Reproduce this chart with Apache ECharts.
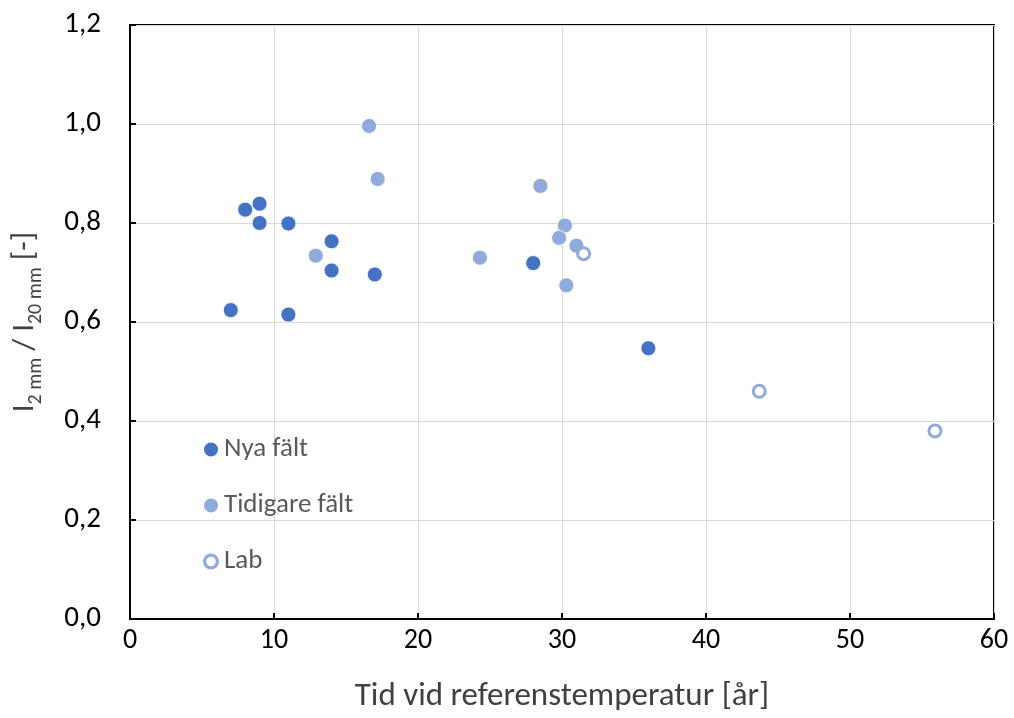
<!DOCTYPE html>
<html>
<head>
<meta charset="utf-8">
<script src="https://cdn.jsdelivr.net/npm/echarts@6/dist/echarts.min.js"></script>
<style>
html,body{margin:0;padding:0;background:#fff;}
#chart{width:1014px;height:718px;}
</style>
</head>
<body>
<div id="chart"></div>
<script>
const seriesNames = ['Nya fält', 'Tidigare fält', 'Lab'];
const nyaFalt = [
  [7.0, 0.624], [8.0, 0.827], [9.0, 0.839], [9.0, 0.800], [11.0, 0.799],
  [11.0, 0.615], [14.0, 0.763], [14.0, 0.704], [17.0, 0.696], [28.0, 0.719],
  [36.0, 0.547]
];
const tidigareFalt = [
  [16.6, 0.996], [17.2, 0.889], [12.9, 0.734], [24.3, 0.730], [28.5, 0.875],
  [30.2, 0.795], [29.8, 0.770], [31.0, 0.754], [30.3, 0.674]
];
const lab = [
  [31.5, 0.738], [43.7, 0.460], [55.9, 0.380]
];
const xMin = 0, xMax = 60, xStep = 10;
const yMin = 0, yMax = 1.2, yStep = 0.2;
const xTitle = 'Tid vid referenstemperatur [år]';

const axisFont = "Carlito, Lato, sans-serif";
const legendFont = "Carlito, Lato, sans-serif";
const ringIcon = 'path://M0,8 A8,8 0 1,1 16,8 A8,8 0 1,1 0,8 Z M3.2,8 A4.8,4.8 0 1,0 12.8,8 A4.8,4.8 0 1,0 3.2,8 Z';

const chart = echarts.init(document.getElementById('chart'), null, {renderer: 'canvas'});
chart.setOption({
  animation: false,
  backgroundColor: '#fff',
  grid: {left: 130, right: 20, top: 25, bottom: 97, show: true, borderColor: '#000', borderWidth: 2, backgroundColor: 'transparent'},
  xAxis: {
    type: 'value', min: xMin, max: xMax, interval: xStep,
    name: xTitle, nameLocation: 'middle', nameGap: 61,
    nameTextStyle: {fontFamily: axisFont, fontSize: 33, color: '#404040'},
    axisLine: {show: true, lineStyle: {color: '#000', width: 2}},
    axisTick: {show: true, inside: true, length: 6, lineStyle: {color: '#000', width: 2}},
    axisLabel: {fontFamily: axisFont, fontSize: 28, color: '#000', margin: 8},
    splitLine: {show: true, lineStyle: {color: '#D9D9D9', width: 1}}
  },
  yAxis: {
    type: 'value', min: yMin, max: yMax, interval: yStep,
    name: '{a|I}{s|2 mm}{a| / I}{s|20 mm}{a| [-]}',
    nameLocation: 'middle', nameGap: 89, nameRotate: 90,
    nameTextStyle: {
      color: '#404040',
      rich: {
        a: {fontFamily: axisFont, fontSize: 31, color: '#404040', lineHeight: 38, verticalAlign: 'bottom'},
        s: {fontFamily: axisFont, fontSize: 20, color: '#404040', lineHeight: 38, verticalAlign: 'bottom', padding: [0,0,-5,0]}
      }
    },
    axisLine: {show: true, lineStyle: {color: '#000', width: 2}},
    axisTick: {show: true, inside: true, length: 6, lineStyle: {color: '#000', width: 2}},
    axisLabel: {fontFamily: axisFont, fontSize: 29, color: '#000', margin: 29,
      formatter: v => v.toFixed(1).replace('.', ',')},
    splitLine: {show: true, lineStyle: {color: '#D9D9D9', width: 1}}
  },
  legend: {
    orient: 'vertical', left: 197, top: 431, itemGap: 29, itemWidth: 16, itemHeight: 16,
    textStyle: {fontFamily: legendFont, fontSize: 27, color: '#595959'},
    data: [
      {name: seriesNames[0], icon: 'circle'},
      {name: seriesNames[1], icon: 'circle'},
      {name: seriesNames[2], icon: ringIcon, itemStyle: {color: '#8FAADC', borderWidth: 0}}
    ]
  },
  series: [
    {name: seriesNames[0], type: 'scatter', data: nyaFalt, symbol: 'circle', symbolSize: 15,
      itemStyle: {color: '#4472C4', borderColor: '#fff', borderWidth: 0.8, opacity: 1}},
    {name: seriesNames[1], type: 'scatter', data: tidigareFalt, symbol: 'circle', symbolSize: 15,
      itemStyle: {color: '#8FAADC', borderColor: '#fff', borderWidth: 0.8, opacity: 1}},
    {name: seriesNames[2], type: 'scatter', data: lab, symbol: 'circle', symbolSize: 12,
      itemStyle: {color: '#fff', borderColor: '#8FAADC', borderWidth: 3, opacity: 1}}
  ]
});
</script>
</body>
</html>
